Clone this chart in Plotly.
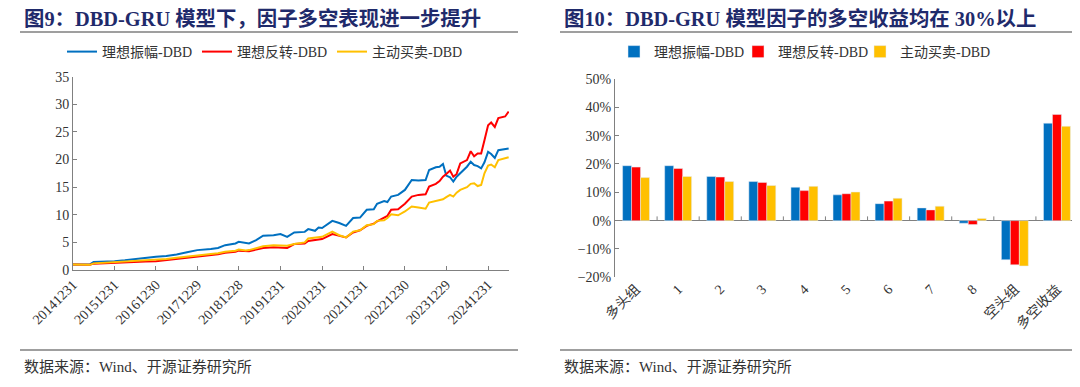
import plotly.graph_objects as go

# ---------------- data: left chart (cumulative long-short NAV) ----------------
dates = [
    "2014-12-31", "2015-02-27", "2015-05-29", "2015-06-30", "2015-09-30", "2015-12-31",
    "2016-03-31", "2016-06-30", "2016-09-30", "2016-12-30", "2017-03-31", "2017-06-30",
    "2017-09-29", "2017-12-29", "2018-04-27", "2018-06-29", "2018-08-31", "2018-11-30",
    "2018-12-28", "2019-02-28", "2019-03-29", "2019-05-31", "2019-07-31", "2019-10-31",
    "2019-12-31", "2020-02-28", "2020-04-30", "2020-07-31", "2020-08-31", "2020-10-30",
    "2020-11-30", "2020-12-31", "2021-03-31", "2021-05-31", "2021-07-30", "2021-09-30",
    "2021-11-30", "2022-01-28", "2022-03-31", "2022-04-29", "2022-06-30", "2022-07-29",
    "2022-08-31", "2022-10-31", "2022-12-30", "2023-02-28", "2023-04-28", "2023-06-30",
    "2023-07-31", "2023-09-28", "2023-10-31", "2023-11-30", "2023-12-29", "2024-01-31",
    "2024-02-29", "2024-03-29", "2024-04-30", "2024-06-28", "2024-07-31", "2024-08-30",
    "2024-09-30", "2024-10-31", "2024-11-29", "2024-12-31", "2025-01-27", "2025-02-28",
    "2025-03-31", "2025-05-30", "2025-06-30",
]
amp_dbd = [
    1.00, 1.00, 1.02, 1.45, 1.50, 1.60,
    1.75, 2.00, 2.20, 2.40, 2.55, 2.80,
    3.20, 3.60, 3.80, 4.00, 4.50, 4.80,
    5.10, 4.90, 4.80, 5.40, 6.20, 6.30,
    6.50, 6.00, 6.80, 6.90, 7.40, 7.10,
    7.70, 7.60, 8.90, 8.50, 8.00, 9.40,
    9.50, 10.90, 11.00, 12.00, 12.50, 12.30,
    13.30, 13.60, 14.50, 16.30, 16.20, 16.30,
    18.10, 18.60, 18.70, 19.20, 17.10, 16.80,
    16.00, 16.90, 17.50, 18.70, 19.60, 19.00,
    18.80, 18.40, 19.50, 21.40, 21.00, 20.30,
    21.70, 21.90, 22.00,
]
rev_dbd = [
    1.00, 0.95, 0.95, 1.15, 1.20, 1.27,
    1.35, 1.45, 1.52, 1.60, 1.80, 2.00,
    2.20, 2.40, 2.70, 2.85, 3.10, 3.30,
    3.50, 3.40, 3.40, 3.70, 4.00, 4.10,
    4.10, 4.00, 4.70, 4.80, 5.25, 5.40,
    5.50, 5.60, 6.50, 6.20, 5.90, 6.80,
    7.20, 8.00, 8.40, 8.80, 9.50, 9.80,
    10.90, 11.00, 12.00, 13.30, 13.60, 13.70,
    15.10, 15.60, 16.10, 16.90, 17.40, 18.00,
    16.90, 17.40, 19.30, 19.90, 21.50, 20.60,
    21.10, 21.10, 23.50, 26.20, 26.70, 25.90,
    27.50, 27.80, 28.70,
]
buy_dbd = [
    1.00, 0.92, 0.93, 1.20, 1.30, 1.40,
    1.50, 1.60, 1.70, 1.80, 2.00, 2.20,
    2.45, 2.70, 2.90, 3.05, 3.30, 3.50,
    3.70, 3.55, 3.60, 3.95, 4.30, 4.50,
    4.50, 4.40, 4.70, 5.00, 5.70, 5.90,
    5.90, 6.00, 6.95, 6.30, 5.90, 6.95,
    7.20, 8.10, 8.30, 8.90, 9.00, 9.40,
    10.10, 9.90, 10.60, 11.50, 11.30, 11.10,
    12.20, 12.50, 12.60, 12.80, 13.20, 13.60,
    13.30, 14.00, 14.50, 15.00, 15.60, 15.70,
    15.20, 15.40, 17.50, 18.90, 19.10, 18.60,
    19.90, 20.30, 20.40,
]
line_tick_dates = ["2014-12-31", "2015-12-31", "2016-12-30", "2017-12-29", "2018-12-28",
                   "2019-12-31", "2020-12-31", "2021-12-31", "2022-12-30", "2023-12-29",
                   "2024-12-31"]
line_tick_text = ["20141231", "20151231", "20161230", "20171229", "20181228", "20191231",
                  "20201231", "20211231", "20221230", "20231229", "20241231"]

# ---------------- data: right chart (group returns) ----------------
groups = ["多头组", "1", "2", "3", "4", "5", "6", "7", "8", "空头组", "多空收益"]
amp_ret = [19.4, 19.4, 15.6, 13.8, 11.8, 9.1, 6.0, 4.5, -0.9, -13.8, 34.4]
rev_ret = [18.9, 18.4, 15.4, 13.5, 10.6, 9.5, 6.9, 3.8, -1.4, -15.6, 37.5]
buy_ret = [15.2, 15.6, 13.8, 12.4, 12.1, 10.1, 7.9, 5.1, 0.8, -16.0, 33.3]

series_names = ["理想振幅-DBD", "理想反转-DBD", "主动买卖-DBD"]
colors = ["#0070C0", "#FF0000", "#FFC000"]

W, H = 1080, 387
OFF = 8  # the page body adds an 8px margin around the figure
FONT = "Liberation Serif, 'Noto Sans CJK SC', serif"
AXC = "#808080"
TXT = "#333333"

def px_x(p):
    return (p - OFF) / W

def px_y(p):
    return 1 - (p - OFF) / H

# text start (px) of each legend entry
line_leg_text_x = [103, 238, 373]
bar_leg_text_x = [655, 779, 901]

fig = go.Figure()

legend_layouts = {}
for i, (name, vals, c) in enumerate(zip(series_names, [amp_dbd, rev_dbd, buy_dbd], colors)):
    lg = "legend" if i == 0 else f"legend{i + 1}"
    fig.add_trace(go.Scatter(x=dates, y=vals, mode="lines", name=name,
                             line=dict(color=c, width=2), xaxis="x", yaxis="y",
                             legend=lg))
    legend_layouts[lg] = line_leg_text_x[i]

for i, (name, vals, c) in enumerate(zip(series_names, [amp_ret, rev_ret, buy_ret], colors)):
    lg = f"legend{i + 4}"
    fig.add_trace(go.Bar(x=groups, y=vals, name=name, marker_color=c,
                         xaxis="x2", yaxis="y2", legend=lg))
    legend_layouts[lg] = bar_leg_text_x[i]

tickfont = dict(family=FONT, size=14, color=TXT)

fig.update_layout(
    width=W, height=H,
    margin=dict(l=0, r=0, t=0, b=0, autoexpand=False),
    paper_bgcolor="white", plot_bgcolor="white",
    font=dict(family=FONT, size=14, color=TXT),
    barmode="group", bargap=0.36, bargroupgap=0,
    showlegend=True,
    xaxis=dict(
        domain=[px_x(73), px_x(509)], type="date", automargin=False,
        range=["2014-12-31", "2025-07-03"],
        tickvals=line_tick_dates, ticktext=line_tick_text, tickangle=-45,
        ticks="inside", ticklen=4, tickcolor=AXC, showline=True, linecolor=AXC,
        linewidth=1, showgrid=False, zeroline=False, tickfont=tickfont, anchor="y",
    ),
    yaxis=dict(
        domain=[px_y(270), px_y(76.7)], range=[0, 35], dtick=5, automargin=False,
        ticks="inside", ticklen=4, tickcolor=AXC, showline=True, linecolor=AXC,
        linewidth=1, showgrid=False, zeroline=False, tickfont=tickfont, anchor="x",
    ),
    xaxis2=dict(
        domain=[px_x(615), px_x(1078)], anchor="y2", type="category", automargin=False,
        range=[-0.5, 10.5], tickangle=-45, ticks="", showline=False,
        showgrid=False, zeroline=False, tickfont=tickfont,
    ),
    yaxis2=dict(
        domain=[px_y(277.3), px_y(79)], anchor="x2", range=[-20, 50], dtick=10,
        automargin=False,
        ticksuffix="%", ticks="inside", ticklen=4, tickcolor=AXC, showline=True,
        linecolor=AXC, linewidth=1, showgrid=False, zeroline=True,
        zerolinecolor=AXC, zerolinewidth=1, tickfont=tickfont,
    ),
)

for lg, tx in legend_layouts.items():
    fig.update_layout({lg: dict(orientation="h", x=px_x(tx - 41), xanchor="left",
                                y=px_y(52), yanchor="middle",
                                font=dict(family=FONT, size=14, color=TXT),
                                bgcolor="rgba(0,0,0,0)", itemwidth=30,
                                borderwidth=0)})

# category boundary ticks on the zero line of the bar chart
shapes = []
for i in range(len(groups) - 1):
    shapes.append(dict(type="line", xref="x2", yref="y2", x0=i + 0.5, x1=i + 0.5,
                       y0=0, y1=1.5, line=dict(color=AXC, width=1)))

# separator rules (title underline, source rule)
for (a, b) in [(20, 518), (560, 1088)]:
    for yy in (32, 350):
        shapes.append(dict(type="line", xref="paper", yref="paper",
                           x0=px_x(a), x1=px_x(b), y0=px_y(yy), y1=px_y(yy),
                           line=dict(color="#7F7F7F", width=1.5)))
fig.update_layout(shapes=shapes)

TITLE_C = "#1F2A6B"
annos = [
    dict(text="<b>图9：DBD-GRU 模型下，因子多空表现进一步提升</b>", x=px_x(22), y=px_y(18)),
    dict(text="<b>图10：DBD-GRU 模型因子的多空收益均在 30%以上</b>", x=px_x(562), y=px_y(18)),
]
for a in annos:
    fig.add_annotation(text=a["text"], x=a["x"], y=a["y"], xref="paper", yref="paper",
                       xanchor="left", yanchor="middle", showarrow=False,
                       font=dict(family=FONT, size=20.4, color=TITLE_C))
for xx in (22, 562):
    fig.add_annotation(text="数据来源：Wind、开源证券研究所", x=px_x(xx), y=px_y(367),
                       xref="paper", yref="paper", xanchor="left", yanchor="middle",
                       showarrow=False, font=dict(family=FONT, size=15, color="#333333"))

fig.write_html("out.html")
